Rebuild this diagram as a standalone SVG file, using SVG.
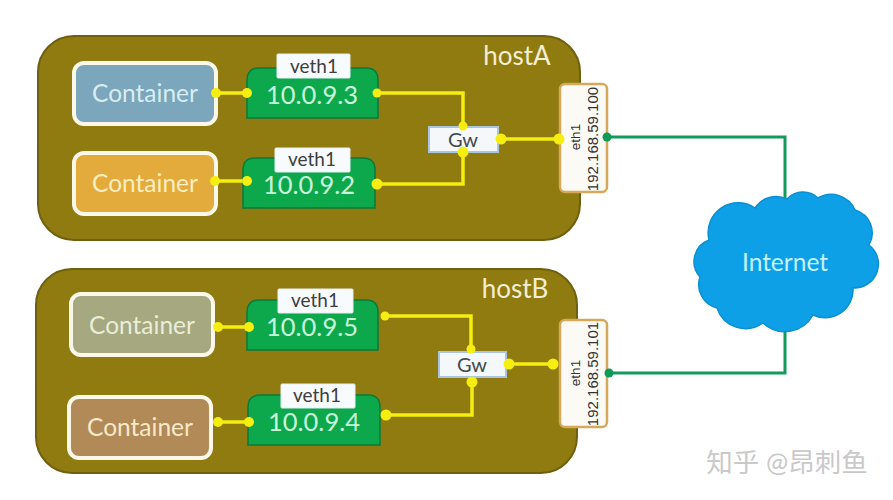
<svg xmlns="http://www.w3.org/2000/svg" width="893" height="500" viewBox="0 0 893 500">
<style>
text{font-family:Lato,"Noto Sans","Noto Sans CJK SC",sans-serif;text-anchor:middle}
.host{fill:#8f7b10;stroke:#6f6010;stroke-width:2}
.hostname{font-size:26px;fill:#f4eed2}
.ctr{stroke:#fbf8ea;stroke-width:4}
.ctrtext{font-size:24.5px}
.veth{fill:#0da84c;stroke:#0b7a3a;stroke-width:1.5}
.ip{font-size:25.5px;fill:#c8f7dc}
.tag{fill:#f8fbfd;stroke:#e4eef4;stroke-width:1}
.tagtext{font-size:19px;fill:#3e3e3e}
.gw{fill:#f4f8fb;stroke:#a9c6de;stroke-width:2}
.gwtext{font-size:20px;fill:#444a50}
.eth{fill:#fbfaf4;stroke:#d6a85a;stroke-width:2.5}
.ethtext{font-family:"Liberation Sans",sans-serif;font-size:13.5px;fill:#333}
.ethip{font-size:15px}
.y{fill:none;stroke:#f6ee10;stroke-width:3.5}
.yd{fill:#f6ee10}
.g{fill:none;stroke:#139a5c;stroke-width:3}
.gd{fill:#0f9a58}
</style>
<rect width="893" height="500" fill="#fff"/>

<g id="hostA">
<rect class="host" x="38" y="36" width="542" height="204" rx="36"/>
<text class="hostname" x="517" y="65">hostA</text>
</g>
<g id="hostB">
<rect class="host" x="36" y="269" width="541" height="204" rx="36"/>
<text class="hostname" x="515" y="298">hostB</text>
</g>

<g id="connectors">
<path class="g" d="M607 137H785V200"/>
<path class="g" d="M609 373H785V325"/>
<path class="y" d="M216 93H247"/>
<path class="y" d="M215 181H247"/>
<path class="y" d="M218 327H249"/>
<path class="y" d="M218 422H249"/>
<path class="y" d="M377 93H463V127"/>
<path class="y" d="M377 184H463V152"/>
<path class="y" d="M385 316H471V351"/>
<path class="y" d="M386 415H472V377"/>
<path class="y" d="M501 139H559"/>
<path class="y" d="M509 364H553"/>
</g>

<g id="container-a1">
<rect class="ctr" x="74" y="63" width="142" height="61" rx="10" fill="#7ba6bb"/>
<text class="ctrtext" x="145" y="102" fill="#d6eef2">Container</text>
</g>
<g id="container-a2">
<rect class="ctr" x="74" y="153" width="142" height="61" rx="10" fill="#e3ab3b"/>
<text class="ctrtext" x="145" y="192" fill="#fbeec0">Container</text>
</g>
<g id="container-b1">
<rect class="ctr" x="71" y="294" width="142" height="61" rx="10" fill="#a6a87f"/>
<text class="ctrtext" x="142" y="334" fill="#e9eed8">Container</text>
</g>
<g id="container-b2">
<rect class="ctr" x="69" y="397" width="142" height="61" rx="10" fill="#b18a58"/>
<text class="ctrtext" x="140" y="436" fill="#f8e9c8">Container</text>
</g>

<g id="veth-a1">
<path class="veth" d="M259 68H366Q378 68 378 80V118H247V80Q247 68 259 68Z"/>
<rect class="tag" x="277" y="54" width="73" height="24" rx="1"/>
<text class="tagtext" x="314" y="73">veth1</text>
<text class="ip" x="312" y="104">10.0.9.3</text>
</g>
<g id="veth-a2">
<path class="veth" d="M255 158H363Q375 158 375 170V208H243V170Q243 158 255 158Z"/>
<rect class="tag" x="275" y="148" width="75" height="24" rx="1"/>
<text class="tagtext" x="312" y="166">veth1</text>
<text class="ip" x="309" y="194">10.0.9.2</text>
</g>
<g id="veth-b1">
<path class="veth" d="M259 300H366Q378 300 378 312V350H247V312Q247 300 259 300Z"/>
<rect class="tag" x="278" y="289" width="75" height="24" rx="1"/>
<text class="tagtext" x="315" y="307">veth1</text>
<text class="ip" x="312" y="336">10.0.9.5</text>
</g>
<g id="veth-b2">
<path class="veth" d="M260 395H368Q380 395 380 407V445H248V407Q248 395 260 395Z"/>
<rect class="tag" x="281" y="384" width="74" height="24" rx="1"/>
<text class="tagtext" x="317" y="402">veth1</text>
<text class="ip" x="314" y="431">10.0.9.4</text>
</g>

<g id="gw-a">
<rect class="gw" x="429" y="127" width="69" height="25"/>
<text class="gwtext" x="463" y="147">Gw</text>
</g>
<g id="gw-b">
<rect class="gw" x="439" y="352" width="67" height="25"/>
<text class="gwtext" x="472" y="372">Gw</text>
</g>

<g id="eth-a">
<rect class="eth" x="560" y="84" width="47" height="108" rx="5"/>
<text class="ethtext" transform="translate(580 137) rotate(-90)">eth1</text>
<text class="ethtext ethip" transform="translate(598 139) rotate(-90)">192.168.59.100</text>
</g>
<g id="eth-b">
<rect class="eth" x="560" y="320" width="47" height="107" rx="5"/>
<text class="ethtext" transform="translate(580 373) rotate(-90)">eth1</text>
<text class="ethtext ethip" transform="translate(598 374) rotate(-90)">192.168.59.101</text>
</g>

<g id="ports">
<circle class="yd" cx="216" cy="93" r="5"/><circle class="yd" cx="247" cy="93" r="5"/>
<circle class="yd" cx="215" cy="181" r="5"/><circle class="yd" cx="247" cy="181" r="5"/>
<circle class="yd" cx="218" cy="327" r="5"/><circle class="yd" cx="249" cy="327" r="5"/>
<circle class="yd" cx="218" cy="422" r="5"/><circle class="yd" cx="249" cy="422" r="5"/>
<circle class="yd" cx="377" cy="93" r="4.5"/><circle class="yd" cx="377" cy="184" r="5.5"/>
<circle class="yd" cx="385" cy="316" r="4.5"/><circle class="yd" cx="386" cy="415" r="5.5"/>
<circle class="yd" cx="463" cy="126" r="4.5"/><circle class="yd" cx="463" cy="152" r="5.5"/>
<circle class="yd" cx="471" cy="349" r="4.5"/><circle class="yd" cx="472" cy="382" r="5.5"/>
<circle class="yd" cx="501" cy="139" r="5.5"/><circle class="yd" cx="559" cy="139" r="5.5"/>
<circle class="yd" cx="509" cy="364" r="5.5"/><circle class="yd" cx="553" cy="364" r="5.5"/>
<circle class="gd" cx="607" cy="137" r="4.5"/><circle class="gd" cx="609" cy="373" r="4.5"/>
</g>

<g id="internet">
<path d="M709 240A30 30 0 0 1 755 208A25 25 0 0 1 787 199A22 22 0 0 1 818 198A26 26 0 0 1 855 210A24 24 0 0 1 869 245A24 24 0 0 1 853 288A28 28 0 0 1 813 315A32 32 0 0 1 763 323A30 30 0 0 1 717 308A24 24 0 0 1 700 277A23 23 0 0 1 709 240Z" fill="#0ea0e6" stroke="#0b8fd0" stroke-width="1.5"/>
<text x="785" y="271" font-size="24.5" fill="#c6f2fb">Internet</text>
</g>

<text id="credit" x="787" y="472" font-size="26.5" fill="#c9c9c9">知乎 @昂刺鱼</text>
</svg>
